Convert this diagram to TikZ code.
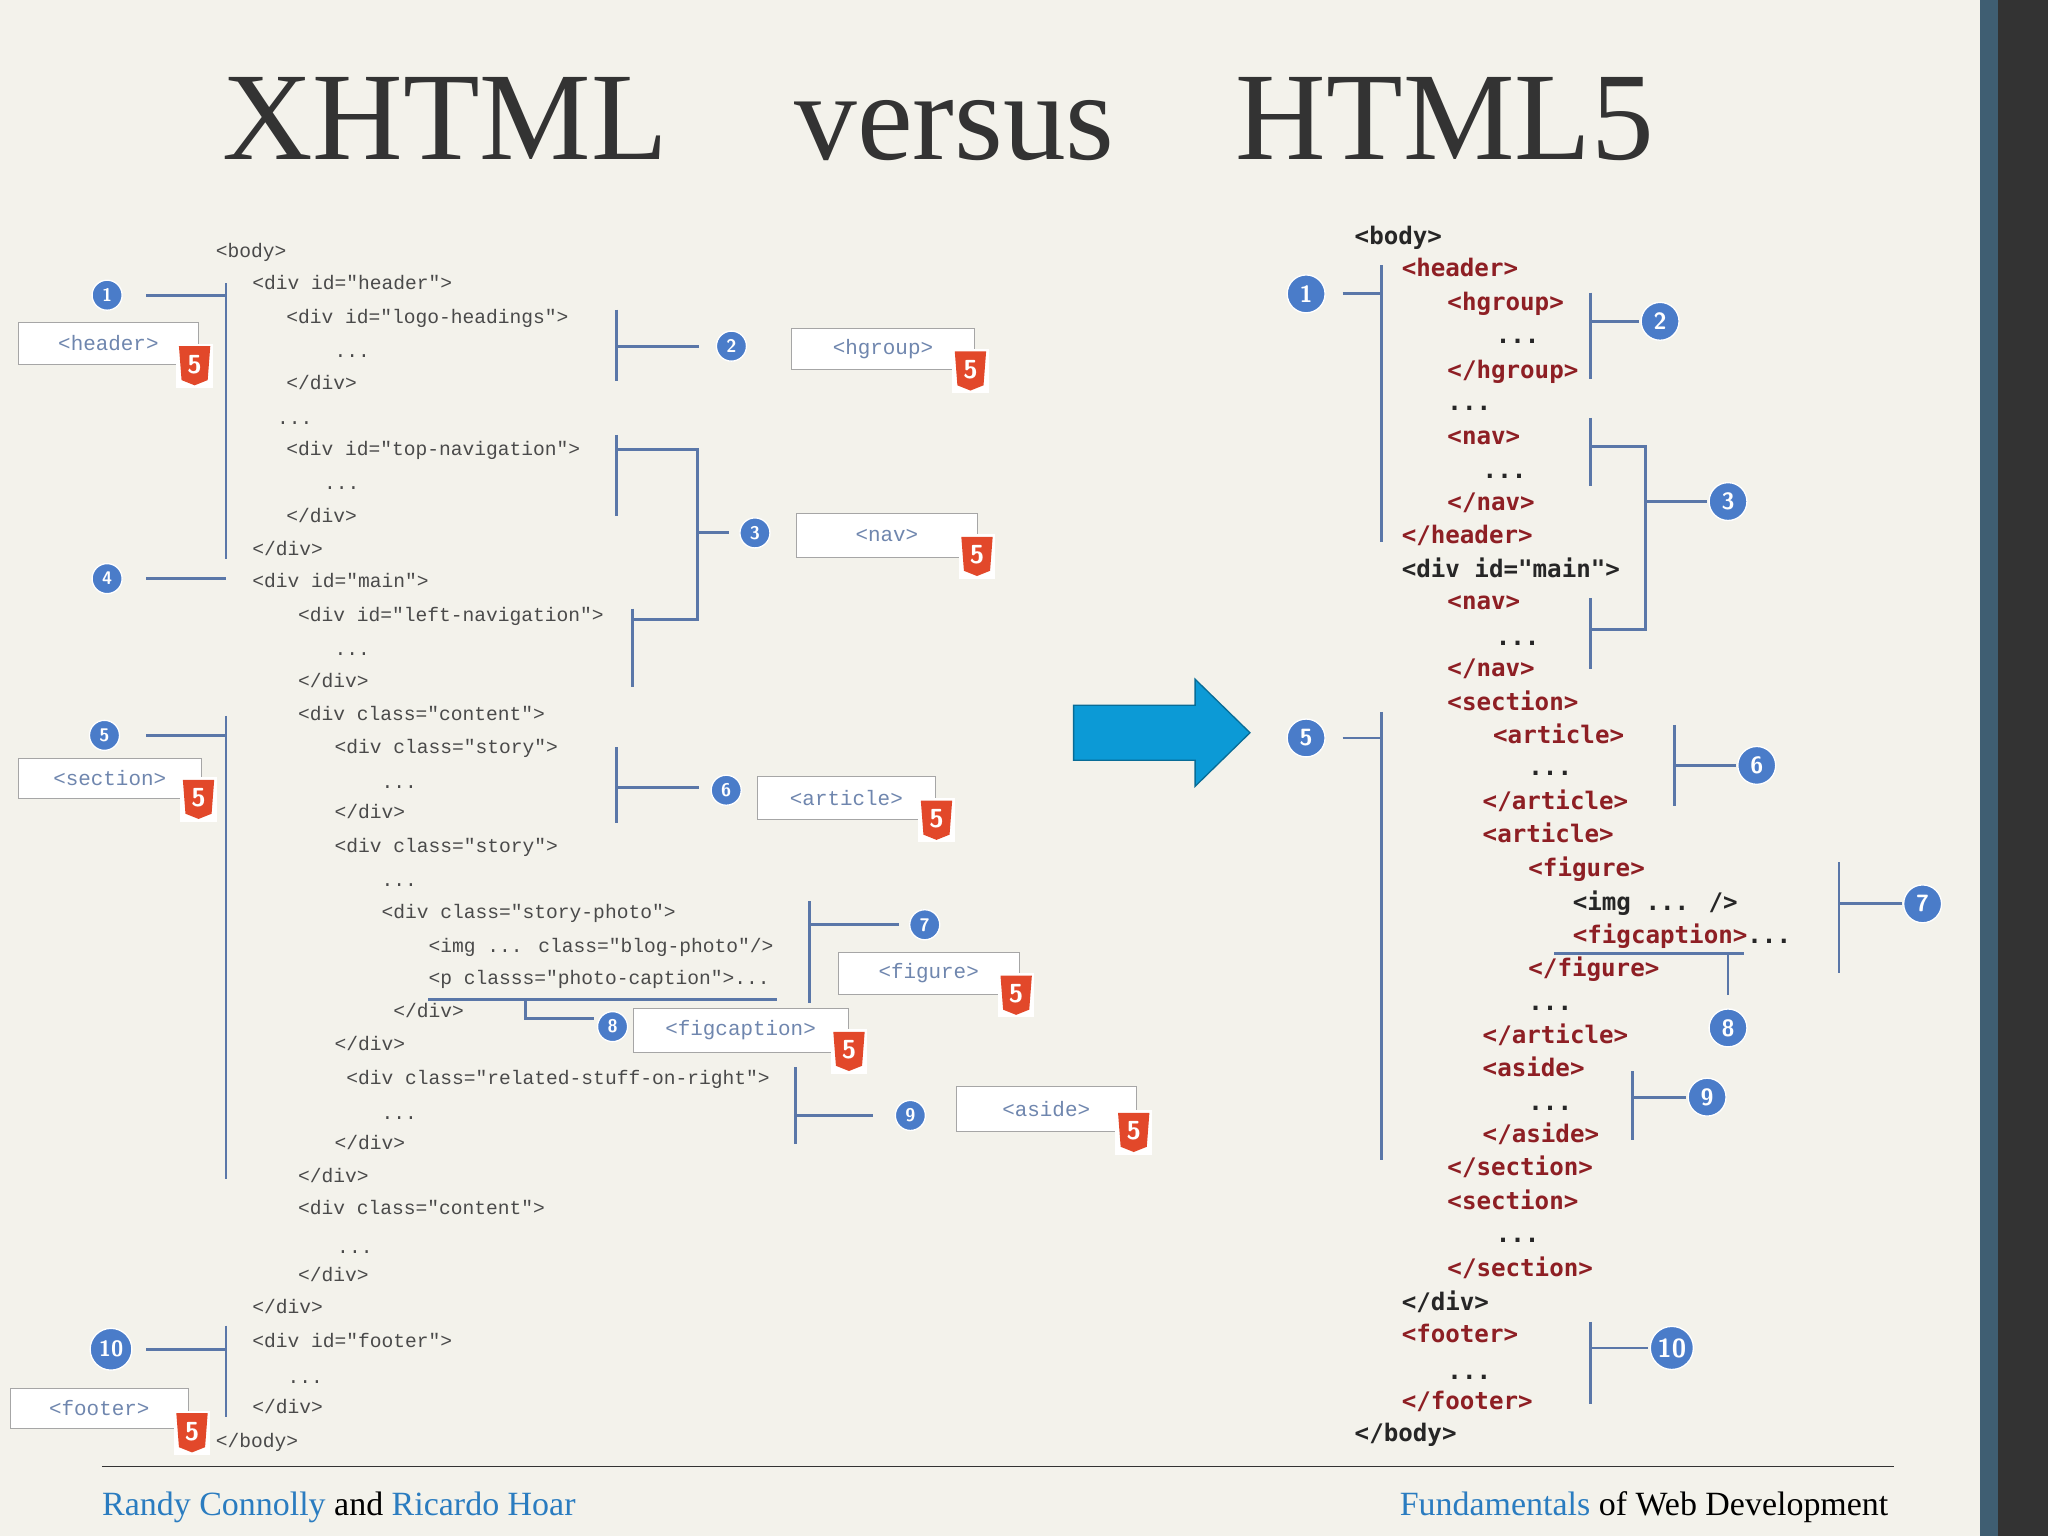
\documentclass[tikz,border=0pt]{standalone}
\usepackage{fontspec}
\setmainfont{Liberation Serif}
\newfontfamily\lmono{Liberation Mono}
\newfontfamily\rmono{DejaVu Sans Mono}
\definecolor{bg}{HTML}{F3F2EB}
\definecolor{cblue}{HTML}{4A7CC9}
\definecolor{lblue}{HTML}{5A77A8}
\definecolor{tagred}{HTML}{8E1F24}
\definecolor{codegray}{HTML}{4A4A4A}
\definecolor{boxtxt}{HTML}{6F86AE}
\definecolor{arrowblue}{HTML}{0C9AD6}
\definecolor{fblue}{HTML}{2A7CC0}
\definecolor{barblue}{HTML}{3F5E72}
\definecolor{hred}{HTML}{E2482A}
\begin{document}
\begin{tikzpicture}[x=1pt,y=-1pt,
  lc/.style={anchor=base west,inner sep=0pt,font=\lmono\fontsize{15}{16}\selectfont,text=codegray},
  rc/.style={anchor=base west,inner sep=0pt,font=\rmono\bfseries\fontsize{18.5}{20}\selectfont,text=tagred},
  rk/.style={rc,text=black!85},
  br/.style={draw=lblue,line width=2.2pt},
  num/.style={circle,fill=cblue,draw=white,line width=1pt,text=white,inner sep=0pt,minimum size=#1,font=\sffamily\bfseries\fontsize{14}{14}\selectfont},
  num/.default=23pt,
  rnum/.style={num=29pt,font=\sffamily\bfseries\fontsize{18}{18}\selectfont},
  lbox/.style={draw=black!35,fill=white,inner sep=0pt,text=boxtxt,font=\lmono\fontsize{16}{16}\selectfont},
  hfive/.pic={\fill[white] (-14,-16) rectangle (14,18);
    \fill[hred] (-12,-14) -- (12,-14) -- (10,12) -- (0,16) -- (-10,12) -- cycle;
    \node[text=white,font=\sffamily\bfseries\fontsize{20}{20}\selectfont,inner sep=0pt] at (0,0) {5};}
]
\useasboundingbox (0,0) rectangle (1568,1176);
\fill[bg] (0,0) rectangle (1568,1176);
\fill[black!80] (1516,0) rectangle (1568,1176);
\fill[barblue] (1516,0) rectangle (1530,1176);

% title
\node[anchor=base west,inner sep=0pt,font=\fontsize{96}{96}\selectfont,text=black!80] (t1) at (170,122) {XHTML};
\node[anchor=base west,inner sep=0pt,font=\fontsize{96}{96}\selectfont,text=black!80] (t2) at (608,122) {versus};
\node[anchor=base west,inner sep=0pt,font=\fontsize{96}{96}\selectfont,text=black!80] (t3) at (946,122) {HTML5};

% left code
\node[lc] (l1) at (165,197) {<body>};
\node[lc] (l2) at (193,222) {<div id="header">};
\node[lc] (l3) at (219,248) {<div id="logo-headings">};
\node[lc] (l4) at (256,274) {...};
\node[lc] (l5) at (219,298) {</div>};
\node[lc] (l6) at (212,325) {...};
\node[lc] (l7) at (219,349) {<div id="top-navigation">};
\node[lc] (l8) at (248,375) {...};
\node[lc] (l9) at (219,400) {</div>};
\node[lc] (l10) at (193,425) {</div>};
\node[lc] (l11) at (193,450) {<div id="main">};
\node[lc] (l12) at (228,476) {<div id="left-navigation">};
\node[lc] (l13) at (256,502) {...};
\node[lc] (l14) at (228,526) {</div>};
\node[lc] (l15) at (228,552) {<div class="content">};
\node[lc] (l16) at (256,577) {<div class="story">};
\node[lc] (l17) at (292,604) {...};
\node[lc] (l18) at (256,627) {</div>};
\node[lc] (l19) at (256,653) {<div class="story">};
\node[lc] (l20) at (292,679) {...};
\node[lc] (l21) at (292,703) {<div class="story-photo">};
\node[lc] (l22) at (328,729) {<img ... class="blog-photo"/>};
\node[lc] (l23) at (328,754) {<p classs="photo-caption">...};
\node[lc] (l24) at (301,779) {</div>};
\node[lc] (l25) at (256,804) {</div>};
\node[lc] (l26) at (265,830) {<div class="related-stuff-on-right">};
\node[lc] (l27) at (292,857) {...};
\node[lc] (l28) at (256,880) {</div>};
\node[lc] (l29) at (228,905) {</div>};
\node[lc] (l30) at (228,930) {<div class="content">};
\node[lc] (l31) at (258,960) {...};
\node[lc] (l32) at (228,981) {</div>};
\node[lc] (l33) at (193,1006) {</div>};
\node[lc] (l34) at (193,1032) {<div id="footer">};
\node[lc] (l35) at (220,1059) {...};
\node[lc] (l36) at (193,1082) {</div>};
\node[lc] (l37) at (165,1108) {</body>};

% left labels
\node[num] (n1) at (82,226) {1};
\node[num] (n2) at (560,265) {2};
\node[num] (n3) at (578,408) {3};
\node[num] (n4) at (82,443) {4};
\node[num] (n5) at (80,563) {5};
\node[num] (n6) at (556,605) {6};
\node[num] (n7) at (708,708) {7};
\node[num] (n8) at (469,786) {8};
\node[num] (n9) at (697,854) {9};
\node[num=32pt,font=\sffamily\bfseries\fontsize{17}{17}\selectfont] (n10) at (85,1033) {10};

\node[lbox,minimum width=138pt,minimum height=32pt] (bh) at (83,263) {<header>};
\node[lbox,minimum width=140pt,minimum height=32pt] (bg) at (676,267) {<hgroup>};
\node[lbox,minimum width=138pt,minimum height=34pt] (bn) at (679,410) {<nav>};
\node[lbox,minimum width=140pt,minimum height=31pt] (bs) at (84,596) {<section>};
\node[lbox,minimum width=136pt,minimum height=33pt] (ba) at (648,611) {<article>};
\node[lbox,minimum width=138pt,minimum height=32pt] (bf) at (711,745) {<figure>};
\node[lbox,minimum width=165pt,minimum height=34pt] (bc) at (567,789) {<figcaption>};
\node[lbox,minimum width=138pt,minimum height=34pt] (bd) at (801,849) {<aside>};
\node[lbox,minimum width=137pt,minimum height=31pt] (bo) at (76,1078) {<footer>};
\pic at (149,279) {hfive};
\pic at (743,283) {hfive};
\pic at (748,425) {hfive};
\pic at (152,611) {hfive};
\pic at (717,627) {hfive};
\pic at (778,761) {hfive};
\pic at (650,804) {hfive};
\pic at (868,866) {hfive};
\pic at (147,1096) {hfive};

% left brackets
\draw[br] (173,217) -- (173,428);
\draw[br] (112,226) -- (173,226);
\draw[br] (472,237) -- (472,292);
\draw[br] (472,265) -- (535,265);
\draw[br] (472,333) -- (472,395);
\draw[br] (472,344) -- (534,344) -- (534,474) -- (484,474);
\draw[br] (484,466) -- (484,526);
\draw[br] (534,408) -- (558,408);
\draw[br] (112,443) -- (173,443);
\draw[br] (112,563) -- (173,563);
\draw[br] (173,548) -- (173,903);
\draw[br] (472,572) -- (472,630);
\draw[br] (472,603) -- (535,603);
\draw[br] (620,690) -- (620,768);
\draw[br] (620,708) -- (688,708);
\draw[br] (328,765) -- (595,765);
\draw[br] (402,765) -- (402,780) -- (455,780);
\draw[br] (609,817) -- (609,876);
\draw[br] (609,854) -- (668,854);
\draw[br] (112,1033) -- (173,1033);
\draw[br] (173,1015) -- (173,1085);

% arrow
\draw[fill=arrowblue,draw=arrowblue!70!black,line width=1pt] (822,540) -- (915,540) -- (915,520) -- (957,561) -- (915,602) -- (915,582) -- (822,582) -- cycle;

% right code
\node[rk] (r1) at (1037,187) {<body>};
\node[rc] (r2) at (1073,212) {<header>};
\node[rc] (r3) at (1108,238) {<hgroup>};
\node[rk] (r4) at (1145,263) {...};
\node[rc] (r5) at (1108,290) {</hgroup>};
\node[rk] (r6) at (1108,314) {...};
\node[rc] (r7) at (1108,340) {<nav>};
\node[rk] (r8) at (1135,366) {...};
\node[rc] (r9) at (1108,391) {</nav>};
\node[rc] (r10) at (1073,416) {</header>};
\node[rk] (r11) at (1073,442) {<div id="main">};
\node[rc] (r12) at (1108,467) {<nav>};
\node[rk] (r13) at (1145,494) {...};
\node[rc] (r14) at (1108,518) {</nav>};
\node[rc] (r15) at (1108,544) {<section>};
\node[rc] (r16) at (1143,569) {<article>};
\node[rk] (r17) at (1170,594) {...};
\node[rc] (r18) at (1135,620) {</article>};
\node[rc] (r19) at (1135,645) {<article>};
\node[rc] (r20) at (1170,671) {<figure>};
\node[rk] (r21) at (1204,697) {<img ... />};
\node[rc] (r22) at (1204,722) {<figcaption>\textcolor{black!85}{...}};
\node[rc] (r23) at (1170,748) {</figure>};
\node[rk] (r24) at (1170,774) {...};
\node[rc] (r25) at (1135,799) {</article>};
\node[rc] (r26) at (1135,824) {<aside>};
\node[rk] (r27) at (1170,850) {...};
\node[rc] (r28) at (1135,875) {</aside>};
\node[rc] (r29) at (1108,900) {</section>};
\node[rc] (r30) at (1108,926) {<section>};
\node[rk] (r31) at (1145,951) {...};
\node[rc] (r32) at (1108,977) {</section>};
\node[rk] (r33) at (1073,1003) {</div>};
\node[rc] (r34) at (1073,1028) {<footer>};
\node[rk] (r35) at (1108,1056) {...};
\node[rc] (r36) at (1073,1079) {</footer>};
\node[rk] (r37) at (1037,1104) {</body>};

% right labels
\node[rnum] (m1) at (1000,225) {1};
\node[rnum] (m2) at (1271,246) {2};
\node[rnum] (m3) at (1323,384) {3};
\node[rnum] (m5) at (1000,565) {5};
\node[rnum] (m6) at (1345,586) {6};
\node[rnum] (m7) at (1472,692) {7};
\node[rnum] (m8) at (1323,787) {8};
\node[rnum] (m9) at (1307,840) {9};
\node[num=33pt,font=\sffamily\bfseries\fontsize{20}{20}\selectfont] (m10) at (1280,1032) {10};

% right brackets
\draw[br] (1058,203) -- (1058,415);
\draw[br] (1028,225) -- (1058,225);
\draw[br] (1218,224) -- (1218,290);
\draw[br] (1218,246) -- (1255,246);
\draw[br] (1218,320) -- (1218,372);
\draw[br] (1218,458) -- (1218,512);
\draw[br] (1218,342) -- (1260,342) -- (1260,482) -- (1218,482);
\draw[br] (1260,384) -- (1307,384);
\draw[br] (1058,545) -- (1058,888);
\draw[br] (1028,565) -- (1058,565);
\draw[br] (1282,555) -- (1282,617);
\draw[br] (1282,586) -- (1329,586);
\draw[br] (1408,660) -- (1408,745);
\draw[br] (1408,692) -- (1456,692);
\draw[br] (1190,730) -- (1335,730);
\draw[br] (1323,730) -- (1323,762);
\draw[br] (1250,820) -- (1250,873);
\draw[br] (1250,840) -- (1291,840);
\draw[br] (1218,1012) -- (1218,1075);
\draw[br] (1218,1032) -- (1262,1032);

% footer
\draw[black!80,line width=1pt] (78,1123) -- (1450,1123);
\node[anchor=base west,inner sep=0pt,font=\fontsize{26}{26}\selectfont] (f1) at (78,1160) {\textcolor{fblue}{Randy Connolly} and \textcolor{fblue}{Ricardo Hoar}};
\node[anchor=base east,inner sep=0pt,font=\fontsize{26}{26}\selectfont] (f2) at (1446,1160) {\textcolor{fblue}{Fundamentals} of Web Development};
\end{tikzpicture}
\end{document}
